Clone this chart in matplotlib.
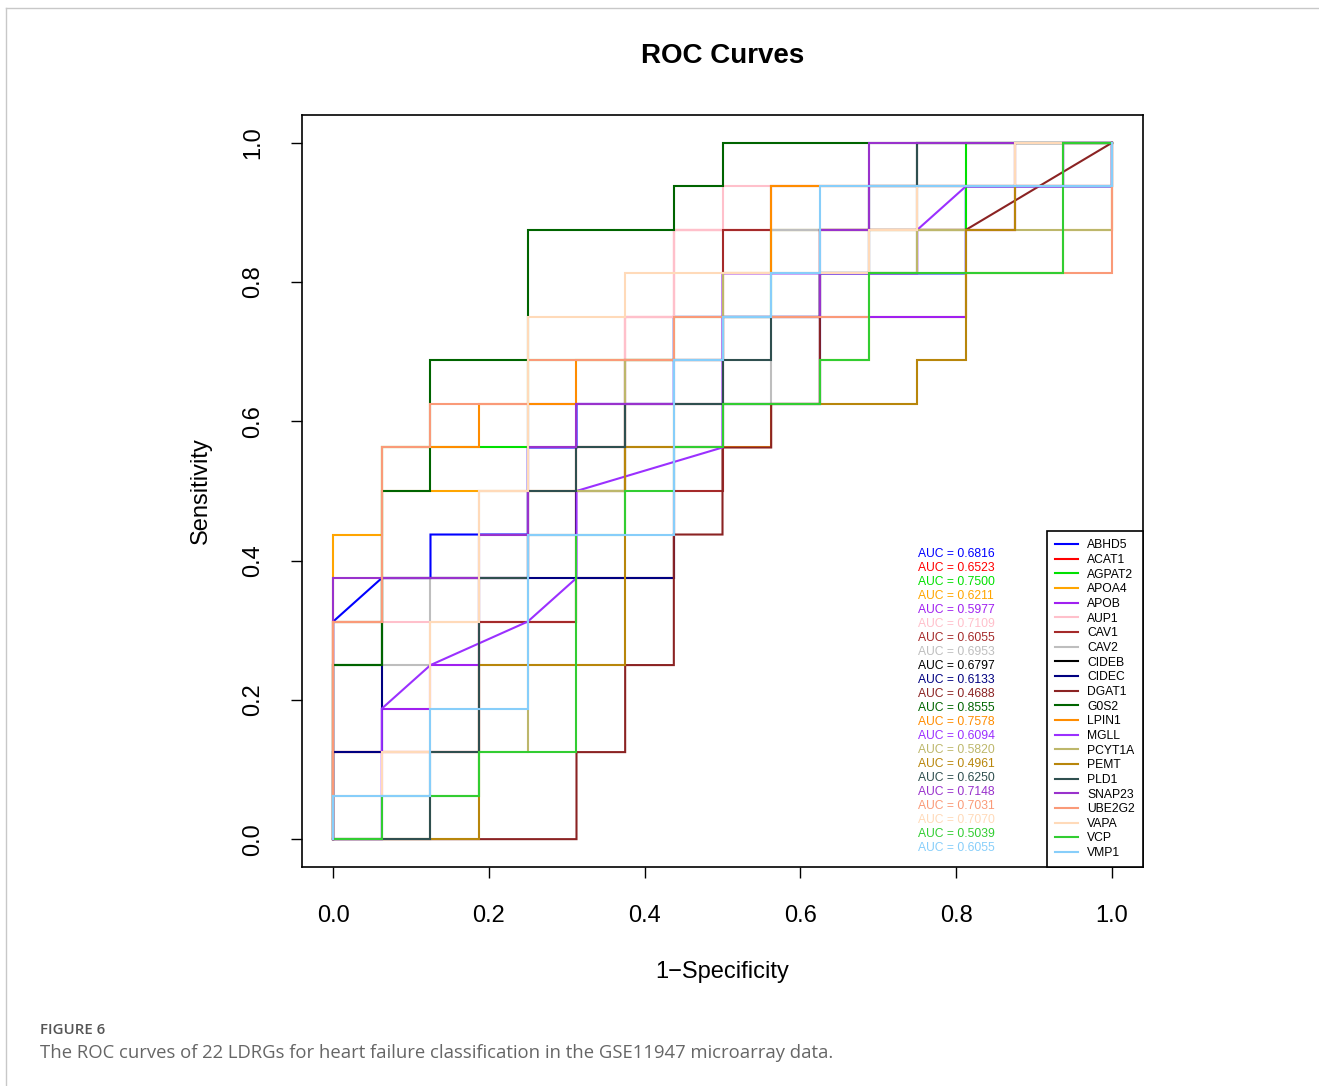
import matplotlib
matplotlib.use("Agg")
import matplotlib.pyplot as plt
from matplotlib.lines import Line2D

plt.rcParams['font.family'] = ['Liberation Sans', 'DejaVu Sans']

# ---- data: ROC step points in units of 1/16 (16 negatives, 16 positives) ----
N = 16.0
ABHD5 = [(0,0),(0,5),(1,6),(2,6),(2,7),(4,7),(4,9),(5,9),(5,10),(7,10),(7,12),(10,12),(10,13),(13,13),(13,15),(16,15),(16,16)]
ACAT1 = [(0,0),(0,2),(3,2),(3,5),(5,5),(5,9),(6,9),(6,12),(7,12),(7,14),(14,14),(14,16),(16,16)]
AGPAT2 = [(0,0),(0,4),(1,4),(1,9),(4,9),(4,11),(7,11),(7,12),(9,12),(9,14),(13,14),(13,16),(16,16)]
APOA4 = [(0,0),(0,7),(1,7),(1,8),(6,8),(6,9),(9,9),(9,10),(10,10),(10,11),(11,11),(11,12),(13,12),(13,13),(15,13),(15,14),(16,14),(16,16)]
APOB = [(0,0),(1,0),(1,3),(2,3),(2,4),(3,4),(3,6),(4,6),(4,10),(10,10),(10,12),(13,12),(13,14),(14,14),(14,15),(16,15),(16,16)]
AUP1 = [(0,0),(0,4),(1,4),(1,5),(3,5),(3,6),(4,6),(4,8),(6,8),(6,12),(7,12),(7,14),(8,14),(8,15),(16,15),(16,16)]
CAV1 = [(0,0),(0,2),(3,2),(3,5),(5,5),(5,6),(7,6),(7,8),(8,8),(8,14),(9,14),(9,15),(16,15),(16,16)]
CAV2 = [(0,0),(0,4),(2,4),(2,6),(3,6),(3,8),(4,8),(4,9),(6,9),(6,10),(9,10),(9,14),(11,14),(11,16),(16,16)]
CIDEB = [(0,0),(0,5),(1,5),(1,6),(4,6),(4,7),(5,7),(5,8),(6,8),(6,11),(8,11),(8,12),(10,12),(10,13),(12,13),(12,16),(16,16)]
CIDEC = [(0,0),(0,2),(1,2),(1,6),(7,6),(7,9),(8,9),(8,10),(10,10),(10,13),(11,13),(11,15),(14,15),(14,16),(16,16)]
DGAT1 = [(0,0),(5,0),(5,2),(6,2),(6,4),(7,4),(7,7),(8,7),(8,9),(9,9),(9,10),(10,10),(10,14),(13,14),(16,16)]
G0S2 = [(0,0),(0,4),(1,4),(1,8),(2,8),(2,11),(4,11),(4,14),(7,14),(7,15),(8,15),(8,16),(16,16)]
LPIN1 = [(0,0),(0,5),(1,5),(1,9),(3,9),(3,10),(5,10),(5,11),(8,11),(8,13),(9,13),(9,15),(16,15),(16,16)]
MGLL = [(0,0),(1,0),(1,3),(2,4),(4,5),(5,6),(5,8),(8,9),(8,13),(12,13),(12,14),(13,15),(15,15),(15,16),(16,16)]
PCYT1A = [(0,0),(2,0),(2,1),(3,1),(3,2),(4,2),(4,8),(6,8),(6,11),(8,11),(8,13),(12,13),(12,14),(16,14),(16,16)]
PEMT = [(0,0),(3,0),(3,4),(6,4),(6,9),(7,9),(7,10),(12,10),(12,11),(13,11),(13,14),(14,14),(14,15),(15,15),(15,16),(16,16)]
PLD1 = [(0,0),(2,0),(2,2),(3,2),(3,6),(4,6),(4,8),(5,8),(5,9),(6,9),(6,10),(8,10),(8,11),(9,11),(9,12),(10,12),(10,13),(11,13),(11,15),(12,15),(12,16),(16,16)]
SNAP23 = [(0,0),(0,6),(3,6),(3,7),(4,7),(4,9),(5,9),(5,10),(7,10),(7,11),(8,11),(8,12),(10,12),(10,14),(11,14),(11,16),(16,16)]
UBE2G2 = [(0,0),(0,5),(1,5),(1,9),(2,9),(2,10),(4,10),(4,11),(7,11),(7,12),(11,12),(11,13),(16,13),(16,16)]
VAPA = [(0,0),(0,1),(1,1),(1,2),(2,2),(2,5),(3,5),(3,8),(4,8),(4,12),(6,12),(6,13),(11,13),(11,14),(12,14),(12,15),(14,15),(14,16),(16,16)]
VCP = [(0,0),(1,0),(1,1),(3,1),(3,2),(5,2),(5,7),(6,7),(6,8),(7,8),(7,9),(8,9),(8,10),(10,10),(10,11),(11,11),(11,13),(15,13),(15,16),(16,16)]
VMP1 = [(0,0),(0,1),(2,1),(2,3),(4,3),(4,7),(7,7),(7,11),(8,11),(8,12),(9,12),(9,13),(10,13),(10,15),(16,15),(16,16)]

genes = ["ABHD5", "ACAT1", "AGPAT2", "APOA4", "APOB", "AUP1", "CAV1", "CAV2", "CIDEB",
         "CIDEC", "DGAT1", "G0S2", "LPIN1", "MGLL", "PCYT1A", "PEMT", "PLD1", "SNAP23",
         "UBE2G2", "VAPA", "VCP", "VMP1"]
curves = [ABHD5, ACAT1, AGPAT2, APOA4, APOB, AUP1, CAV1, CAV2, CIDEB, CIDEC, DGAT1,
          G0S2, LPIN1, MGLL, PCYT1A, PEMT, PLD1, SNAP23, UBE2G2, VAPA, VCP, VMP1]
auc = ["0.6816", "0.6523", "0.7500", "0.6211", "0.5977", "0.7109", "0.6055", "0.6953",
       "0.6797", "0.6133", "0.4688", "0.8555", "0.7578", "0.6094", "0.5820", "0.4961",
       "0.6250", "0.7148", "0.7031", "0.7070", "0.5039", "0.6055"]
colors = ["#0000FF", "#FF0000", "#00E000", "#FFA500", "#A020F0", "#FFC0CB", "#A52A2A",
          "#BEBEBE", "#000000", "#000080", "#8B2323", "#006400", "#FF8C00", "#9B30FF",
          "#BDB76B", "#B8860B", "#2F4F4F", "#9932CC", "#FA9A78", "#FFDAB9", "#32CD32",
          "#87CEFA"]
xticks = [0.0, 0.2, 0.4, 0.6, 0.8, 1.0]

W, H = 1319, 1086
fig = plt.figure(figsize=(W / 100, H / 100), dpi=100)
ax = fig.add_axes([302 / W, 1 - 867 / H, (1143 - 302) / W, (867 - 115) / H])

for g, pts, c in zip(genes, curves, colors):
    xs = [p[0] / N for p in pts]
    ys = [p[1] / N for p in pts]
    ax.plot(xs, ys, color=c, lw=1.5, label=g, solid_joinstyle='miter')

ax.set_xlim(-0.04, 1.04)
ax.set_ylim(-0.04, 1.04)
ax.set_xticks(xticks)
ax.set_xticklabels([f"{t:.1f}" for t in xticks], fontsize=17)
ax.set_yticks(xticks)
ax.set_yticklabels([f"{t:.1f}" for t in xticks], fontsize=17, rotation=90, va='center')
ax.tick_params(direction='out', length=8, width=1, pad=19)
for s in ax.spines.values():
    s.set_linewidth(1.2)

ax.set_xlabel("1\u2212Specificity", fontsize=17, labelpad=25)
ax.set_ylabel("Sensitivity", fontsize=17, labelpad=22)
fig.text(722.5 / W, 1 - 56 / H, "ROC Curves", fontsize=20, fontweight='bold',
         ha='center', va='center')

leg = ax.legend(loc='lower right', fontsize=8.7, frameon=True, fancybox=False,
                edgecolor='black', framealpha=1, borderaxespad=0, handlelength=1.9,
                handletextpad=0.8, labelspacing=0.22, borderpad=0.65)
leg.get_frame().set_linewidth(1.2)

for k, (a, c) in enumerate(zip(auc, colors)):
    fig.text(918 / W, 1 - (554 + 14.0 * k) / H, f"AUC = {a}", color=c, fontsize=8.7,
             ha='left', va='center')

# outer frame and caption
fig.add_artist(Line2D([6 / W, 6 / W], [0, 1 - 8 / H], color='#c8c8c8', lw=1,
                      transform=fig.transFigure))
fig.add_artist(Line2D([6 / W, 1], [1 - 8 / H, 1 - 8 / H], color='#c8c8c8', lw=1,
                      transform=fig.transFigure))
fig.text(40 / W, 1 - 1030 / H, "FIGURE 6", fontsize=10.8, color='#555555',
         family=['Open Sans', 'DejaVu Sans'], fontweight='semibold', va='center')
fig.text(40 / W, 1 - 1053 / H,
         "The ROC curves of 22 LDRGs for heart failure classification in the GSE11947 microarray data.",
         fontsize=13.3, color='#666666', family=['Open Sans', 'DejaVu Sans'], va='center')

fig.savefig("out.png", dpi=100)
